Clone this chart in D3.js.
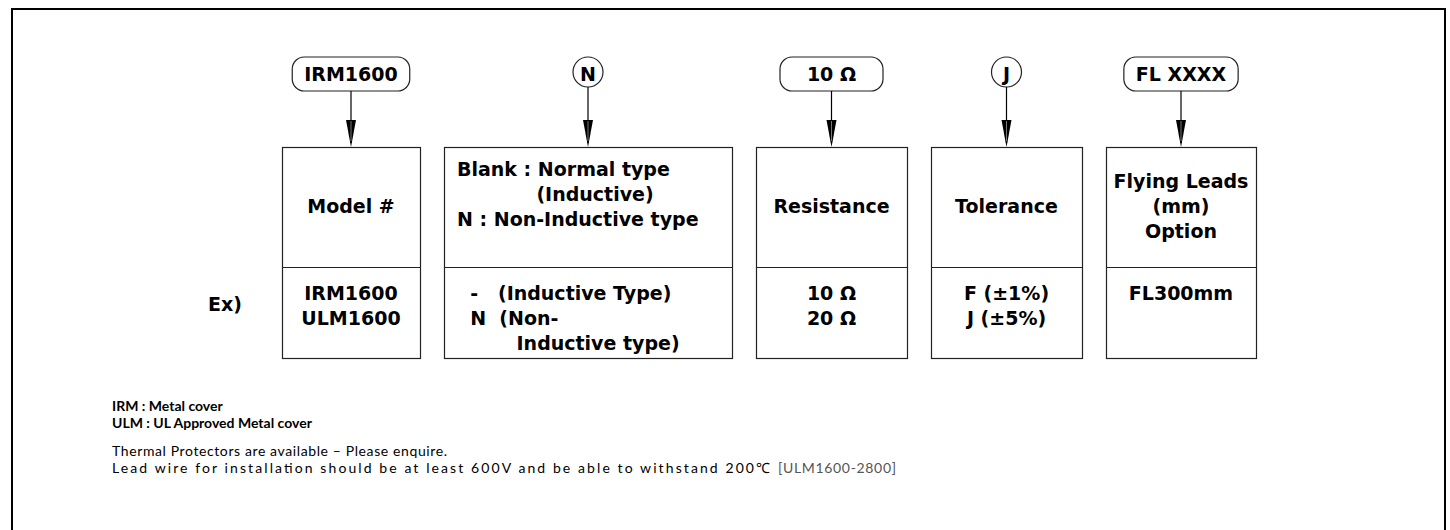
<!DOCTYPE html>
<html>
<head>
<meta charset="utf-8">
<script src="https://cdn.jsdelivr.net/npm/d3@7"></script>
<style>
  body { margin: 0; background: #fff; }
  text { white-space: pre; }
</style>
</head>
<body>
<div id="chart"></div>
<script>
// ordering code parts
var codes = ["IRM1600", "N", "10 Ω", "J", "FL XXXX"];
var headers = [
  ["Model #"],
  ["Blank : Normal type", "            (Inductive)", "N : Non-Inductive type", ""],
  ["Resistance"],
  ["Tolerance"],
  ["Flying Leads", "(mm)", "Option"]
];
var examples = [
  ["IRM1600", "ULM1600"],
  ["  -   (Inductive Type)", "  N  (Non-", "         Inductive type)"],
  ["10 Ω", "20 Ω"],
  ["F (±1%)", "J (±5%)"],
  ["FL300mm"]
];
var exLabel = "Ex)";
var notesBold = ["IRM : Metal cover", "ULM : UL Approved Metal cover"];
var notes = ["Thermal Protectors are available – Please enquire.",
             "Lead wire for installation should be at least 600V and be able to withstand 200℃"];
var noteRef = "[ULM1600-2800]";

drawDiagram(1450, 530);

function drawDiagram(w, h){
  var svg = d3.select("#chart").append("svg")
      .attr("width", w)
      .attr("height", h);

  // outer frame
  svg.append("rect")
    .attr("x", 12).attr("y", 9)
    .attr("width", 1433).attr("height", 560)
    .attr("fill", "none")
    .attr("stroke", "#000")
    .attr("stroke-width", 2);

  // column layout
  var colW = [138, 288, 151, 151, 150],
      gap = 24,
      left0 = 282;
  var lefts = colW.map(function(d, i){
    return left0 + d3.sum(colW.slice(0, i)) + gap * i;
  });
  var cx = function(i){ return lefts[i] + colW[i] / 2; };

  var boxTop = 147, boxMid = 267, boxBot = 358,
      codeY = 74, lineH = 25,
      font = "'DejaVu Sans', Verdana, sans-serif";

  var cols = svg.append("g").selectAll("g")
      .data(codes)
      .enter().append("g");

  // boxes
  cols.append("rect")
    .attr("x", function(d, i){ return lefts[i] + 0.5; })
    .attr("y", boxTop + 0.5)
    .attr("width", function(d, i){ return colW[i]; })
    .attr("height", boxBot - boxTop)
    .attr("fill", "#fff")
    .attr("stroke", "#222")
    .attr("stroke-width", 1.2);

  cols.append("line")
    .attr("x1", function(d, i){ return lefts[i] + 0.5; })
    .attr("x2", function(d, i){ return lefts[i] + colW[i] + 0.5; })
    .attr("y1", boxMid + 0.5).attr("y2", boxMid + 0.5)
    .attr("stroke", "#222")
    .attr("stroke-width", 1.2);

  // code labels (pill or circle)
  cols.each(function(d, i){
    var g = d3.select(this);
    var t = g.append("text")
      .attr("x", cx(i))
      .attr("y", codeY + 7)
      .attr("text-anchor", "middle")
      .attr("font-family", font)
      .attr("font-weight", "bold")
      .attr("font-size", 19)
      .text(d);
    var tw = t.node().getComputedTextLength();
    var bottom;
    if (d.length === 1) {
      g.insert("circle", "text")
        .attr("cx", cx(i)).attr("cy", codeY - 2)
        .attr("r", 15)
        .attr("fill", "#fff")
        .attr("stroke", "#222")
        .attr("stroke-width", 1.2);
      bottom = codeY + 13;
    } else {
      var bw = Math.max(tw + 24, 103);
      g.insert("rect", "text")
        .attr("x", cx(i) - bw / 2).attr("y", codeY - 17)
        .attr("width", bw).attr("height", 34)
        .attr("rx", 12).attr("ry", 12)
        .attr("fill", "#fff")
        .attr("stroke", "#222")
        .attr("stroke-width", 1.2);
      bottom = codeY + 17;
    }
    // arrow
    g.append("line")
      .attr("x1", cx(i)).attr("x2", cx(i))
      .attr("y1", bottom).attr("y2", boxTop - 4)
      .attr("stroke", "#000")
      .attr("stroke-width", 1.2);
    g.append("path")
      .attr("d", "M" + (cx(i) - 5) + "," + (boxTop - 27) +
                 "L" + (cx(i) + 5) + "," + (boxTop - 27) +
                 "L" + cx(i) + "," + boxTop + "Z")
      .attr("fill", "#000");
    g.append("line")
      .attr("x1", cx(i)).attr("x2", cx(i))
      .attr("y1", boxTop - 26).attr("y2", boxTop - 6)
      .attr("stroke", "#777")
      .attr("stroke-width", 1);
  });

  // header texts
  cols.each(function(d, i){
    var lines = headers[i];
    var first = 213 - (lines.length - 1) * lineH / 2;
    var leftAlign = (i === 1);
    d3.select(this).selectAll("text.hd")
      .data(lines)
      .enter().append("text")
        .attr("class", "hd")
        .attr("x", leftAlign ? lefts[i] + 13 : cx(i))
        .attr("y", function(l, j){ return first + j * lineH; })
        .attr("text-anchor", leftAlign ? "start" : "middle")
        .attr("font-family", font)
        .attr("font-weight", "bold")
        .attr("font-size", 19)
        .text(function(l){ return l; });
  });

  // example texts
  cols.each(function(d, i){
    var leftAlign = (i === 1);
    d3.select(this).selectAll("text.ex")
      .data(examples[i])
      .enter().append("text")
        .attr("class", "ex")
        .attr("x", leftAlign ? lefts[i] + 13 : cx(i))
        .attr("y", function(l, j){ return 300 + j * lineH; })
        .attr("text-anchor", leftAlign ? "start" : "middle")
        .attr("font-family", font)
        .attr("font-weight", "bold")
        .attr("font-size", 19)
        .text(function(l){ return l; });
  });

  svg.append("text")
    .attr("x", 208).attr("y", 311)
    .attr("font-family", font)
    .attr("font-weight", "bold")
    .attr("font-size", 19)
    .text(exLabel);

  // notes
  var noteFont = "Lato, 'Noto Sans', sans-serif";
  svg.append("g").selectAll("text")
    .data(notesBold)
    .enter().append("text")
      .attr("x", 112)
      .attr("y", function(d, i){ return 411 + i * 17; })
      .attr("font-family", noteFont)
      .attr("font-weight", "bold")
      .attr("font-size", 14)
      .text(function(d){ return d; });

  var noteLen = [335, 658];
  svg.append("g").selectAll("text")
    .data(notes)
    .enter().append("text")
      .attr("x", 112)
      .attr("y", function(d, i){ return 456 + i * 17; })
      .attr("font-family", noteFont)
      .attr("font-size", 14)
      .attr("textLength", function(d, i){ return noteLen[i]; })
      .attr("lengthAdjust", "spacing")
      .text(function(d){ return d; });

  svg.append("text")
    .attr("x", 778)
    .attr("y", 456 + 17)
    .attr("fill", "#555")
    .attr("font-family", noteFont)
    .attr("font-size", 14)
    .attr("textLength", 118)
    .attr("lengthAdjust", "spacing")
    .text(noteRef);
}
</script>
</body>
</html>
